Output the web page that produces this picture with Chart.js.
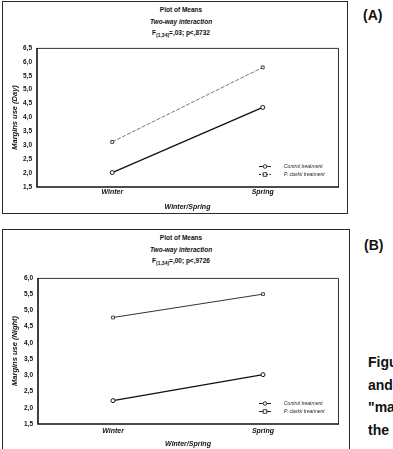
<!DOCTYPE html>
<html>
<head>
<meta charset="utf-8">
<script src="https://cdn.jsdelivr.net/npm/chart.js@4.4.1/dist/chart.umd.min.js"></script>
<style>
  body { margin: 0; width: 393px; height: 449px; overflow: hidden; background: #fff; position: relative;
         font-family: "Liberation Sans", Arial, sans-serif; color: #111; }
  .frame { position: absolute; box-sizing: border-box; border: 1.5px solid #2a2a2a; }
  .head { position: absolute; left: 81px; width: 200px; text-align: center; font-size: 6.5px;
          font-weight: bold; line-height: 11.5px; }
  .head sub { font-size: 5px; vertical-align: -1.5px; }
  .side { position: absolute; font-weight: bold; font-size: 14px; line-height: 18px; white-space: nowrap; }
  canvas { position: absolute; left: 0; }
</style>
</head>
<body>
<div class="frame" style="left:2px;top:1px;width:346px;height:213px"></div>
<div class="frame" style="left:2px;top:229px;width:348px;height:240px"></div>

<div class="head" style="top:4px">Plot of Means<br><i>Two-way interaction</i><br>F<sub>(1,34)</sub>=,03; p&lt;,8732</div>
<div class="head" style="top:232px">Plot of Means<br><i>Two-way interaction</i><br>F<sub>(1,34)</sub>=,00; p&lt;,9726</div>

<canvas id="dayChart" width="345" height="176" style="top:39px"></canvas>
<canvas id="nightChart" width="345" height="184" style="top:269px"></canvas>

<div class="side" style="left:363px;top:6px">(A)</div>
<div class="side" style="left:364px;top:236px">(B)</div>
<div class="side" style="left:368px;top:353px">Figu</div>
<div class="side" style="left:368px;top:376px">and</div>
<div class="side" style="left:368px;top:398px">"ma</div>
<div class="side" style="left:368px;top:421px">the</div>

<script>
const seasons = ["Winter", "Spring"];
const seriesNames = ["Control treatment", "P. clarkii treatment"];

// margins use during the day (A)
const dayControl = [2.02, 4.36];
const dayClarkii = [3.12, 5.8];
const dayRange = [1.5, 6.5];

// margins use during the night (B)
const nightControl = [2.22, 3.02];
const nightClarkii = [4.78, 5.5];
const nightRange = [1.5, 6.0];

const yStep = 0.5;

const fontFamily = '"Liberation Sans", Arial, sans-serif';

// box around the plot area, heavier on left and bottom
const plotBox = {
    id: "plotBox",
    afterDraw(chart) {
        let ca = chart.chartArea, ctx = chart.ctx;
        ctx.save();
        ctx.strokeStyle = "#333";
        ctx.lineWidth = 1;
        ctx.beginPath();
        ctx.moveTo(ca.left, ca.top + 0.5);
        ctx.lineTo(ca.right + 0.5, ca.top + 0.5);
        ctx.lineTo(ca.right + 0.5, ca.bottom);
        ctx.stroke();
        ctx.strokeStyle = "#111";
        ctx.lineWidth = 1.6;
        ctx.beginPath();
        ctx.moveTo(ca.left, ca.top);
        ctx.lineTo(ca.left, ca.bottom);
        ctx.lineTo(ca.right + 1, ca.bottom);
        ctx.stroke();
        ctx.restore();
    }
};

// small legend in the lower right corner of the plot
const cornerLegend = {
    id: "cornerLegend",
    afterDraw(chart) {
        let ca = chart.chartArea, ctx = chart.ctx;
        let rows = [ca.bottom - 21, ca.bottom - 13];
        ctx.save();
        chart.data.datasets.forEach((ds, i) => {
            let y = Math.round(rows[i]) + 0.5;
            let cx = ca.right - 73;
            ctx.strokeStyle = "#222";
            ctx.lineWidth = 1;
            ctx.setLineDash(ds.borderDash && ds.borderDash.length ? [2, 1.5] : []);
            ctx.beginPath();
            ctx.moveTo(cx - 6, y);
            ctx.lineTo(cx + 6, y);
            ctx.stroke();
            ctx.setLineDash([]);
            ctx.fillStyle = "#fff";
            ctx.strokeStyle = "#222";
            ctx.lineWidth = 0.9;
            ctx.beginPath();
            if (ds.pointStyle === "rect") ctx.rect(cx - 1.8, y - 1.8, 3.6, 3.6);
            else ctx.arc(cx, y, 1.8, 0, Math.PI * 2);
            ctx.fill();
            ctx.stroke();
            ctx.fillStyle = "#222";
            ctx.font = "italic 5px " + fontFamily;
            ctx.textBaseline = "middle";
            ctx.fillText(ds.label, ca.right - 54, y);
        });
        ctx.restore();
    }
};

function formatTick(value) {
    return value.toFixed(1).replace(".", ",");
}

function makeChart(canvasId, yTitle, range, control, clarkii, opts) {
    let ctx = document.getElementById(canvasId).getContext("2d");
    return new Chart(ctx, {
        type: "line",
        data: {
            labels: seasons,
            datasets: [
                {
                    label: seriesNames[0], data: control,
                    borderColor: "#111", borderWidth: 1.3,
                    pointStyle: "circle", pointRadius: 2, pointBorderWidth: 1,
                    pointBackgroundColor: "#fff", pointBorderColor: "#111"
                },
                {
                    label: seriesNames[1], data: clarkii,
                    borderColor: opts.clarkiiColor, borderWidth: opts.clarkiiWidth,
                    borderDash: opts.clarkiiDash,
                    pointStyle: "rect", pointRadius: 2, pointBorderWidth: 0.9,
                    pointBackgroundColor: "#fff", pointBorderColor: "#333"
                }
            ]
        },
        options: {
            responsive: false,
            animation: false,
            layout: { padding: { left: 0, right: 7, top: 8, bottom: 0 } },
            plugins: { legend: { display: false }, tooltip: { enabled: false } },
            scales: {
                x: {
                    offset: true,
                    grid: { display: false, drawTicks: false },
                    border: { display: false },
                    ticks: { color: "#111", padding: opts.xPad,
                             font: { family: fontFamily, size: 7, weight: "bold", style: "italic" } },
                    title: { display: true, text: "Winter/Spring", color: "#111",
                             padding: { top: 0, bottom: opts.xTitlePad },
                             font: { family: fontFamily, size: 7, weight: "bold", style: "italic" } },
                    afterFit: function (scale) { scale.height = opts.xHeight; }
                },
                y: {
                    min: range[0], max: range[1],
                    grid: { display: false, drawTicks: false },
                    border: { display: false },
                    ticks: { stepSize: yStep, color: "#111", padding: 5, callback: formatTick,
                             font: { family: fontFamily, size: 6.5, weight: "bold" } },
                    title: { display: true, text: yTitle, color: "#111",
                             padding: { top: 10.5, bottom: 0 },
                             font: { family: fontFamily, size: 7.5, weight: "bold", style: "italic" } },
                    afterFit: function (scale) { scale.width = opts.yWidth; }
                }
            }
        },
        plugins: [plotBox, cornerLegend]
    });
}

makeChart("dayChart", "Margins use (Day)", dayRange, dayControl, dayClarkii, {
    clarkiiColor: "#555", clarkiiWidth: 0.8, clarkiiDash: [4, 1.5],
    xPad: 1, xTitlePad: 3.8, xHeight: 28, yWidth: 37
});

makeChart("nightChart", "Margins use (Night)", nightRange, nightControl, nightClarkii, {
    clarkiiColor: "#333", clarkiiWidth: 1, clarkiiDash: [],
    xPad: 3, xTitlePad: 4.8, xHeight: 29, yWidth: 38
});
</script>
</body>
</html>
